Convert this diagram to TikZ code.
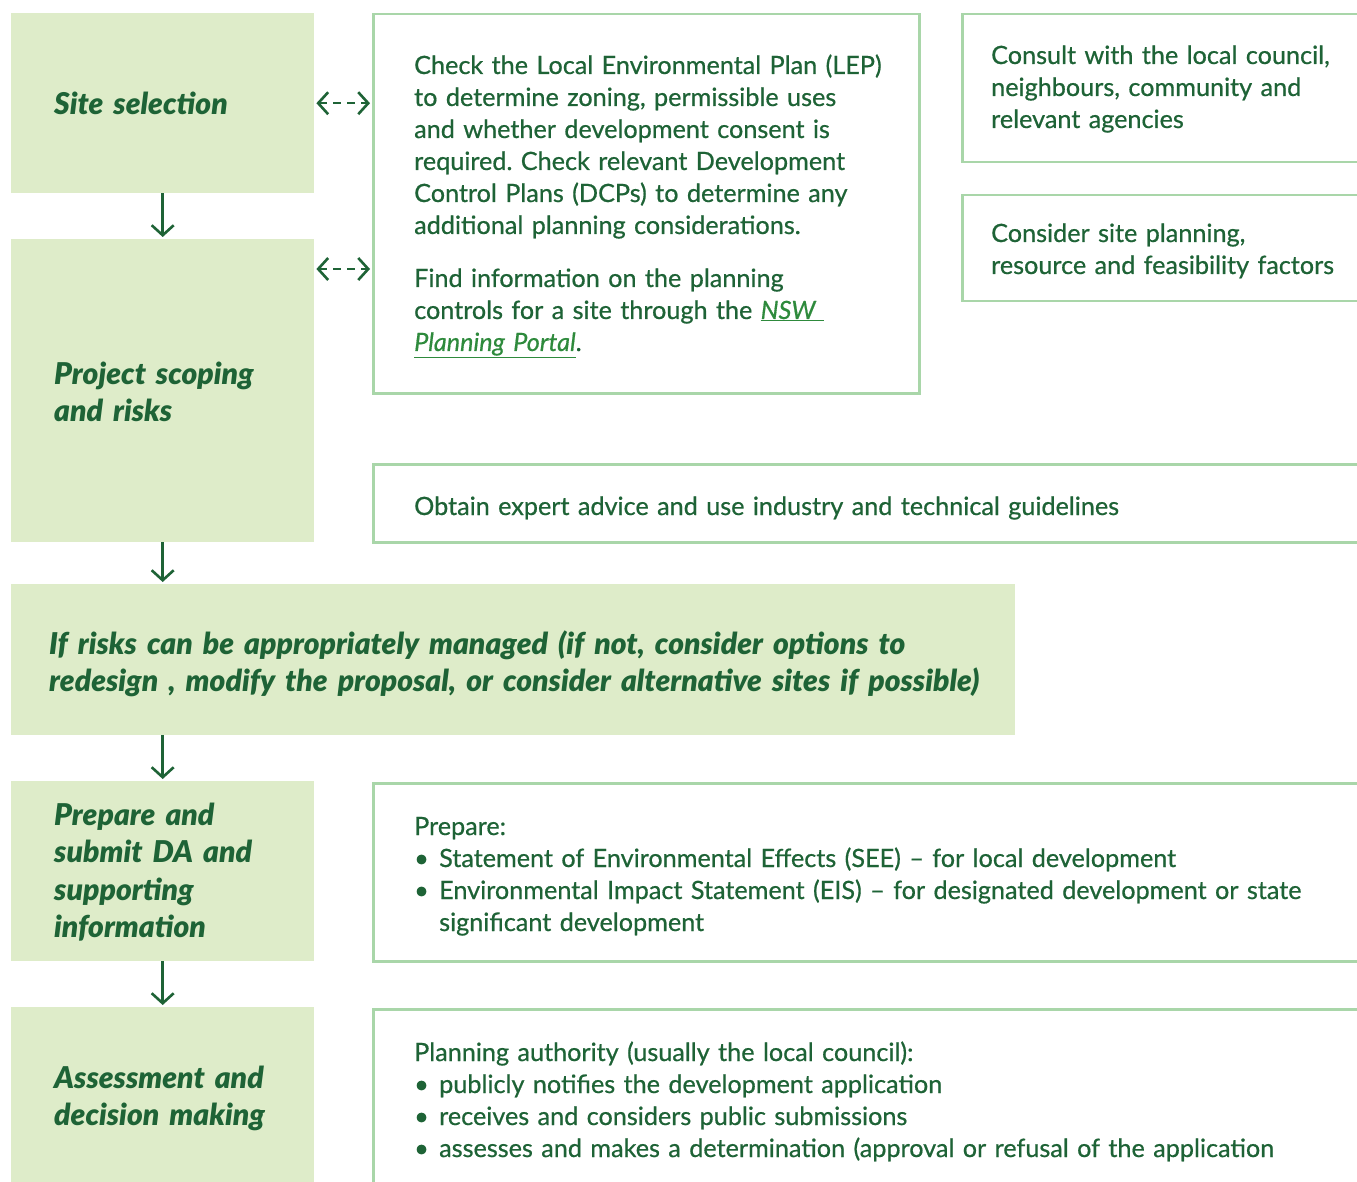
\documentclass[tikz,border=0pt]{standalone}
\usepackage{fontspec}
\setmainfont{Lato}[UprightFeatures={FakeBold=0.6},ItalicFeatures={FakeBold=0.6}]
\newfontfamily\headfont{Lato-BlackItalic.ttf}
\usetikzlibrary{arrows.meta}
\definecolor{dg}{HTML}{1E6336}
\definecolor{fillg}{HTML}{DEECC9}
\definecolor{bordg}{HTML}{A9D6A9}
\definecolor{linkg}{HTML}{2E8A3C}
\tikzset{
  gbox/.style={fill=fillg, draw=none, anchor=north west, inner sep=0pt},
  obox/.style={draw=bordg, line width=2.5pt, fill=none, anchor=north west, inner sep=0pt},
  head/.style={anchor=base west, inner sep=0pt, text=dg, align=left, text width=300pt,
    font=\fontsize{30}{37.5}\headfont},
  body/.style={anchor=base west, inner sep=0pt, text=dg, align=left, text width=1000pt,
    font=\fontsize{25.2}{32}\selectfont},
  flow/.style={draw=dg, line width=2.6pt, -{Straight Barb[length=10pt,width=22pt,line width=2.6pt]}},
  link/.style={draw=dg, line width=2.6pt, dash pattern=on 8pt off 6pt,
    {Straight Barb[length=10pt,width=22pt,line width=2.6pt]}-{Straight Barb[length=10pt,width=22pt,line width=2.6pt]}},
}
\newcommand{\bul}{\makebox[25pt][l]{\textbullet}}
\frenchspacing
\begin{document}
\begin{tikzpicture}[x=1pt,y=-1pt]
\clip (0,0) rectangle (1357,1182);
\fill[white] (0,0) rectangle (1357,1182);
% green step boxes
\node[gbox, minimum width=303pt, minimum height=180pt] (s1) at (11,13) {};
\node[gbox, minimum width=303pt, minimum height=303pt] (s2) at (11,239) {};
\node[gbox, minimum width=1004pt, minimum height=151pt] (s3) at (11,584) {};
\node[gbox, minimum width=303pt, minimum height=180pt] (s4) at (11,781) {};
\node[gbox, minimum width=303pt, minimum height=190pt] (s5) at (11,1007) {};
% outlined info boxes
\node[obox, minimum width=546pt, minimum height=379pt] (big) at (372,13) {};
\node[obox, minimum width=420pt, minimum height=148pt] (cons) at (961,13) {};
\node[obox, minimum width=420pt, minimum height=106pt] (csite) at (961,194) {};
\node[obox, minimum width=1010pt, minimum height=78pt] (expert) at (372,463) {};
\node[obox, minimum width=1010pt, minimum height=178pt] (prep) at (372,782) {};
\node[obox, minimum width=1010pt, minimum height=200pt] (plan) at (372,1008) {};
% headings
\node[head] (h1) at (54,115) {Site selection};
\node[head] (h2) at (54,384) {Project scoping\\and risks};
\node[head, text width=980pt] (h3) at (49,654) {If risks can be appropriately managed (if not, consider options to\\redesign , modify the proposal, or consider alternative sites if possible)};
\node[head] (h4) at (54,825) {Prepare and\\submit DA and\\supporting\\information};
\node[head] (h5) at (54,1088) {Assessment and\\decision making};
% body texts
\node[body, text width=500pt] (t1) at (414,74) {Check the Local Environmental Plan (LEP)\\to determine zoning, permissible uses\\and whether development consent is\\required. Check relevant Development\\Control Plans (DCPs) to determine any\\additional planning considerations.};
\node[body, text width=500pt] (t2) at (414,287) {Find information on the planning\\controls for a site through the {\color{linkg}\underline{\itshape NSW\ }}\\{\color{linkg}\underline{\itshape Planning Portal}}.};
\node[body, text width=380pt] (t3) at (991,64) {Consult with the local council,\\neighbours, community and\\relevant agencies};
\node[body, text width=380pt] (t4) at (991,242) {Consider site planning,\\resource and feasibility factors};
\node[body] (t5) at (414,515) {Obtain expert advice and use industry and technical guidelines};
\node[body] (t6) at (414,835) {Prepare:\\\bul Statement of Environmental Effects (SEE) -- for local development\\\bul Environmental Impact Statement (EIS) -- for designated development or state\\\hspace*{25pt}significant development};
\node[body] (t7) at (414,1061) {Planning authority (usually the local council):\\\bul publicly notifies the development application\\\bul receives and considers public submissions\\\bul assesses and makes a determination (approval or refusal of the application};
% connectors
\draw[flow] (s1.south) -- ([yshift=2pt]s2.north);
\draw[flow] (s2.south) -- ([yshift=2pt]s2.south |- s3.north);
\draw[flow] (s4.north |- s3.south) -- ([yshift=2pt]s4.north);
\draw[flow] (s4.south) -- ([yshift=2pt]s5.north);
\draw[link] ([xshift=2pt]s1.east) -- ([xshift=-2pt]s1.east -| big.west);
\draw[link] ([xshift=2pt,yshift=-30pt]s2.north east) -- ([xshift=-2pt,yshift=-30pt]s2.north east -| big.west);
\end{tikzpicture}
\end{document}
